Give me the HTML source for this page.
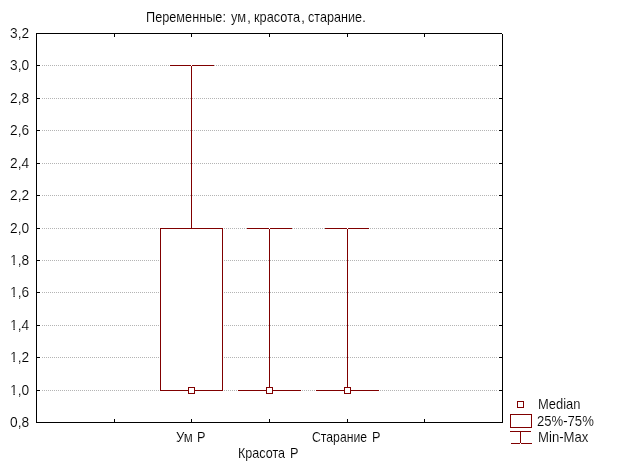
<!DOCTYPE html>
<html lang="ru"><head><meta charset="utf-8"><title>Box plot</title>
<style>
html,body{margin:0;padding:0;background:#fff;}
body{width:624px;height:468px;position:relative;overflow:hidden;}
svg{position:absolute;left:0;top:0;display:block;will-change:transform;}
text{font-family:"Liberation Sans",sans-serif;font-size:14.5px;fill:#000;stroke:#fff;stroke-width:0.12px;paint-order:fill stroke;}
</style></head><body>
<svg width="624" height="468" viewBox="0 0 624 468">
<g shape-rendering="crispEdges">
<line x1="42" y1="65.5" x2="497" y2="65.5" stroke="#b4b4b4" stroke-width="1" stroke-dasharray="1 1"/>
<line x1="42" y1="98.5" x2="497" y2="98.5" stroke="#b4b4b4" stroke-width="1" stroke-dasharray="1 1"/>
<line x1="42" y1="130.5" x2="497" y2="130.5" stroke="#b4b4b4" stroke-width="1" stroke-dasharray="1 1"/>
<line x1="42" y1="163.5" x2="497" y2="163.5" stroke="#b4b4b4" stroke-width="1" stroke-dasharray="1 1"/>
<line x1="42" y1="195.5" x2="497" y2="195.5" stroke="#b4b4b4" stroke-width="1" stroke-dasharray="1 1"/>
<line x1="42" y1="228.5" x2="497" y2="228.5" stroke="#b4b4b4" stroke-width="1" stroke-dasharray="1 1"/>
<line x1="42" y1="260.5" x2="497" y2="260.5" stroke="#b4b4b4" stroke-width="1" stroke-dasharray="1 1"/>
<line x1="42" y1="292.5" x2="497" y2="292.5" stroke="#b4b4b4" stroke-width="1" stroke-dasharray="1 1"/>
<line x1="42" y1="325.5" x2="497" y2="325.5" stroke="#b4b4b4" stroke-width="1" stroke-dasharray="1 1"/>
<line x1="42" y1="357.5" x2="497" y2="357.5" stroke="#b4b4b4" stroke-width="1" stroke-dasharray="1 1"/>
<line x1="42" y1="390.5" x2="497" y2="390.5" stroke="#b4b4b4" stroke-width="1" stroke-dasharray="1 1"/>
<rect x="36" y="33" width="466" height="1" fill="#000"/>
<rect x="36" y="422" width="467" height="1" fill="#000"/>
<rect x="36" y="33" width="1" height="390" fill="#000"/>
<rect x="502" y="34" width="1" height="389" fill="#000"/>
<rect x="37" y="65" width="3" height="1" fill="#000"/>
<rect x="499" y="65" width="3" height="1" fill="#000"/>
<rect x="37" y="98" width="3" height="1" fill="#000"/>
<rect x="499" y="98" width="3" height="1" fill="#000"/>
<rect x="37" y="130" width="3" height="1" fill="#000"/>
<rect x="499" y="130" width="3" height="1" fill="#000"/>
<rect x="37" y="163" width="3" height="1" fill="#000"/>
<rect x="499" y="163" width="3" height="1" fill="#000"/>
<rect x="37" y="195" width="3" height="1" fill="#000"/>
<rect x="499" y="195" width="3" height="1" fill="#000"/>
<rect x="37" y="228" width="3" height="1" fill="#000"/>
<rect x="499" y="228" width="3" height="1" fill="#000"/>
<rect x="37" y="260" width="3" height="1" fill="#000"/>
<rect x="499" y="260" width="3" height="1" fill="#000"/>
<rect x="37" y="292" width="3" height="1" fill="#000"/>
<rect x="499" y="292" width="3" height="1" fill="#000"/>
<rect x="37" y="325" width="3" height="1" fill="#000"/>
<rect x="499" y="325" width="3" height="1" fill="#000"/>
<rect x="37" y="357" width="3" height="1" fill="#000"/>
<rect x="499" y="357" width="3" height="1" fill="#000"/>
<rect x="37" y="390" width="3" height="1" fill="#000"/>
<rect x="499" y="390" width="3" height="1" fill="#000"/>
<rect x="114" y="34" width="1" height="3" fill="#000"/>
<rect x="114" y="419" width="1" height="3" fill="#000"/>
<rect x="191" y="34" width="1" height="3" fill="#000"/>
<rect x="191" y="419" width="1" height="3" fill="#000"/>
<rect x="269" y="34" width="1" height="3" fill="#000"/>
<rect x="269" y="419" width="1" height="3" fill="#000"/>
<rect x="347" y="34" width="1" height="3" fill="#000"/>
<rect x="347" y="419" width="1" height="3" fill="#000"/>
<rect x="424" y="34" width="1" height="3" fill="#000"/>
<rect x="424" y="419" width="1" height="3" fill="#000"/>
<rect x="191" y="65" width="1" height="163" fill="#800000"/>
<rect x="170" y="65" width="44" height="1" fill="#800000"/>
<rect x="191" y="65" width="1" height="1" fill="#fff"/>
<rect x="160.5" y="228.5" width="62" height="162" fill="#fff" stroke="#800000" stroke-width="1"/>
<rect x="269" y="228" width="1" height="162" fill="#800000"/>
<rect x="247" y="228" width="45" height="1" fill="#800000"/>
<rect x="269" y="228" width="1" height="1" fill="#fff"/>
<rect x="238" y="390" width="63" height="1" fill="#800000"/>
<rect x="347" y="228" width="1" height="162" fill="#800000"/>
<rect x="325" y="228" width="44" height="1" fill="#800000"/>
<rect x="347" y="228" width="1" height="1" fill="#fff"/>
<rect x="316" y="390" width="63" height="1" fill="#800000"/>
<rect x="188.5" y="387.5" width="6" height="6" fill="#fff" stroke="#800000" stroke-width="1"/>
<rect x="266.5" y="387.5" width="6" height="6" fill="#fff" stroke="#800000" stroke-width="1"/>
<rect x="344.5" y="387.5" width="6" height="6" fill="#fff" stroke="#800000" stroke-width="1"/>
<rect x="517.5" y="401.5" width="6" height="6" fill="#fff" stroke="#800000" stroke-width="1"/>
<rect x="510.5" y="414.5" width="21" height="13" fill="#fff" stroke="#800000" stroke-width="1"/>
<rect x="510" y="431" width="21" height="1" fill="#800000"/>
<rect x="511" y="443" width="21" height="1" fill="#800000"/>
<rect x="520" y="431" width="1" height="13" fill="#800000"/>
<rect x="520" y="443" width="1" height="1" fill="#fff"/>
</g>
<g>
<text y="38"><tspan x="10.00" textLength="19.11" lengthAdjust="spacingAndGlyphs">3,2</tspan></text>
<text y="70"><tspan x="10.00" textLength="19.11" lengthAdjust="spacingAndGlyphs">3,0</tspan></text>
<text y="103"><tspan x="10.00" textLength="19.11" lengthAdjust="spacingAndGlyphs">2,8</tspan></text>
<text y="135"><tspan x="10.00" textLength="19.11" lengthAdjust="spacingAndGlyphs">2,6</tspan></text>
<text y="168"><tspan x="10.00" textLength="19.11" lengthAdjust="spacingAndGlyphs">2,4</tspan></text>
<text y="200"><tspan x="10.00" textLength="19.11" lengthAdjust="spacingAndGlyphs">2,2</tspan></text>
<text y="233"><tspan x="10.00" textLength="19.11" lengthAdjust="spacingAndGlyphs">2,0</tspan></text>
<text y="265"><tspan x="10.00" textLength="19.11" lengthAdjust="spacingAndGlyphs">1,8</tspan></text>
<text y="297"><tspan x="10.00" textLength="19.11" lengthAdjust="spacingAndGlyphs">1,6</tspan></text>
<text y="330"><tspan x="10.00" textLength="19.11" lengthAdjust="spacingAndGlyphs">1,4</tspan></text>
<text y="362"><tspan x="10.00" textLength="19.11" lengthAdjust="spacingAndGlyphs">1,2</tspan></text>
<text y="395"><tspan x="10.00" textLength="19.11" lengthAdjust="spacingAndGlyphs">1,0</tspan></text>
<text y="427"><tspan x="10.00" textLength="19.11" lengthAdjust="spacingAndGlyphs">0,8</tspan></text>
<text y="22"><tspan x="146.00" textLength="79.92" lengthAdjust="spacingAndGlyphs">Переменные:</tspan> <tspan x="231.00" textLength="15.10" lengthAdjust="spacingAndGlyphs">ум</tspan><tspan x="247.00" textLength="4.03" lengthAdjust="spacingAndGlyphs">,</tspan> <tspan x="254.00" textLength="46.05" lengthAdjust="spacingAndGlyphs">красота</tspan><tspan x="301.00" textLength="4.03" lengthAdjust="spacingAndGlyphs">,</tspan> <tspan x="308.00" textLength="53.95" lengthAdjust="spacingAndGlyphs">старание</tspan><tspan x="362.00" textLength="4.03" lengthAdjust="spacingAndGlyphs">.</tspan></text>
<text y="442"><tspan x="176.00" textLength="16.80" lengthAdjust="spacingAndGlyphs">Ум</tspan> <tspan x="197.00" textLength="8.46" lengthAdjust="spacingAndGlyphs">P</tspan></text>
<text y="458"><tspan x="238.00" textLength="47.11" lengthAdjust="spacingAndGlyphs">Красота</tspan> <tspan x="290.00" textLength="8.46" lengthAdjust="spacingAndGlyphs">P</tspan></text>
<text y="442"><tspan x="312.00" textLength="55.12" lengthAdjust="spacingAndGlyphs">Старание</tspan> <tspan x="372.00" textLength="8.46" lengthAdjust="spacingAndGlyphs">P</tspan></text>
<text y="409"><tspan x="538.00" textLength="42.39" lengthAdjust="spacingAndGlyphs">Median</tspan></text>
<text y="426"><tspan x="537.00" textLength="56.79" lengthAdjust="spacingAndGlyphs">25%-75%</tspan></text>
<text y="442"><tspan x="538.00" textLength="50.45" lengthAdjust="spacingAndGlyphs">Min-Max</tspan></text>
<rect x="10.4" y="263.5" width="3.02" height="1.8" fill="#fff"/>
<rect x="14.72" y="263.5" width="2.9" height="1.8" fill="#fff"/>
<rect x="10.4" y="295.5" width="3.02" height="1.8" fill="#fff"/>
<rect x="14.72" y="295.5" width="2.9" height="1.8" fill="#fff"/>
<rect x="10.4" y="328.5" width="3.02" height="1.8" fill="#fff"/>
<rect x="14.72" y="328.5" width="2.9" height="1.8" fill="#fff"/>
<rect x="10.4" y="360.5" width="3.02" height="1.8" fill="#fff"/>
<rect x="14.72" y="360.5" width="2.9" height="1.8" fill="#fff"/>
<rect x="10.4" y="393.5" width="3.02" height="1.8" fill="#fff"/>
<rect x="14.72" y="393.5" width="2.9" height="1.8" fill="#fff"/>
</g>
</svg>
</body></html>
